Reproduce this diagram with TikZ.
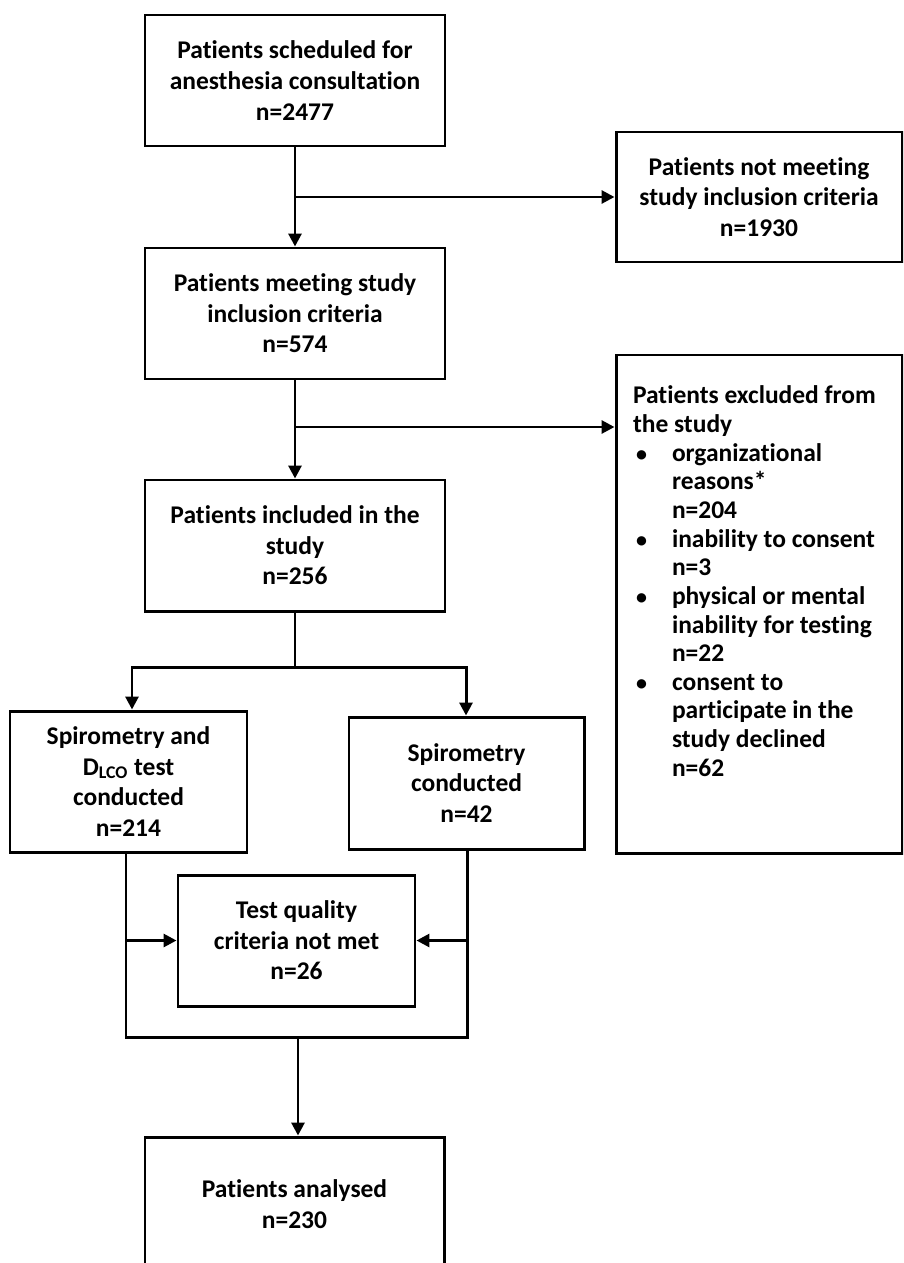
\documentclass[tikz,border=0pt]{standalone}
\usepackage{fontspec}
\setmainfont{Carlito}[Ligatures=NoCommon]
\usetikzlibrary{arrows.meta}

\newcommand{\exclitem}[1]{\makebox[0.78cm][l]{\hspace{0.06cm}{\fontsize{12.5}{12.5}\selectfont\textbullet}}#1}
\newcommand{\exclgap}{\hspace*{0.78cm}}

\begin{document}
\begin{tikzpicture}[
	studybox/.style={rectangle, draw=black, line width=1.7pt, text=black, align=center, inner sep=0pt, font={\bfseries\fontsize{14.5}{17.4}\selectfont}},
	flow/.style={line width=1.7pt, line join=miter},
	flowarrow/.style={line width=1.7pt, -{Triangle[length=0.26cm, width=0.26cm]}},
	flowboth/.style={line width=1.7pt, line join=miter, {Triangle[length=0.26cm, width=0.26cm]}-{Triangle[length=0.26cm, width=0.26cm]}},
	]
	\useasboundingbox (0,0) rectangle (18.06,-25.26);
	\clip (0,0) rectangle (18.06,-25.26);
	%Nodes
	\node[studybox, minimum width=6cm, minimum height=2.62cm] (sched) at (5.9,-1.61) {Patients scheduled for\\anesthesia consultation\\n=2477};
	%
	\node[studybox, minimum width=5.72cm, minimum height=2.6cm] (notmeet) at (15.18,-3.94) {Patients not meeting\\study inclusion criteria\\n=1930};
	%
	\node[studybox, minimum width=6cm, minimum height=2.62cm] (meet) at (5.9,-6.27) {Patients meeting study\\inclusion criteria\\n=574};
	%
	\node[studybox, minimum width=5.72cm, minimum height=9.96cm] (excl) at (15.18,-12.08) {\parbox[c][9.96cm][t]{5.72cm}{\fontsize{14.5}{16.3}\selectfont
		\vspace*{0.62cm}\raggedright\leftskip=0.34cm
		Patients excluded from\\
		the study\\
		\exclitem{organizational}\\
		\exclgap reasons*\\
		\exclgap n=204\\
		\exclitem{inability to consent}\\
		\exclgap n=3\\
		\exclitem{physical or mental}\\
		\exclgap inability for testing\\
		\exclgap n=22\\
		\exclitem{consent to}\\
		\exclgap participate in the\\
		\exclgap study declined\\
		\exclgap n=62}};
	%
	\node[studybox, minimum width=6cm, minimum height=2.62cm] (incl) at (5.9,-10.91) {Patients included in the\\study\\n=256};
	%
	\node[studybox, minimum width=4.74cm, minimum height=2.82cm] (spirodlco) at (2.57,-15.63) {Spirometry and\\D\textsubscript{LCO} test\\conducted\\n=214};
	%
	\node[studybox, minimum width=4.7cm, minimum height=2.64cm] (spiro) at (9.33,-15.66) {Spirometry\\conducted\\n=42};
	%
	\node[studybox, minimum width=4.74cm, minimum height=2.62cm] (quality) at (5.93,-18.81) {Test quality\\criteria not met\\n=26};
	%
	\node[studybox, minimum width=5.98cm, minimum height=2.68cm] (analysed) at (5.89,-24.08) {Patients analysed\\n=230};
	
	%Connectors
	\coordinate (exclsplit) at (5.9,-8.54);
	\coordinate (splitleft) at (2.64,-13.34);
	\coordinate (splitright) at (9.32,-13.34);
	\coordinate (mergeleft) at (2.52,-20.74);
	\coordinate (mergeright) at (9.34,-20.74);
	\coordinate (merge) at (5.96,-20.74);
	%
	\draw[flowarrow] (sched.south) -- (meet.north);
	\draw[flowarrow] (sched.south |- notmeet.west) -- (notmeet.west);
	%
	\draw[flowarrow] (meet.south) -- (incl.north);
	\draw[flowarrow] (exclsplit) -- (exclsplit -| excl.west);
	%
	\draw[flow] (incl.south) -- (incl.south |- splitleft);
	\draw[flowboth] (splitleft |- spirodlco.north) -- (splitleft) -- (splitright) -- (splitright |- spiro.north);
	%
	\draw[flow] (mergeleft |- spirodlco.south) -- (mergeleft) -- (mergeright) -- (mergeright |- spiro.south);
	\draw[flowarrow] (mergeleft |- quality.west) -- (quality.west);
	\draw[flowarrow] (mergeright |- quality.east) -- (quality.east);
	\draw[flowarrow] (merge) -- (merge |- analysed.north);
\end{tikzpicture}
\end{document}
